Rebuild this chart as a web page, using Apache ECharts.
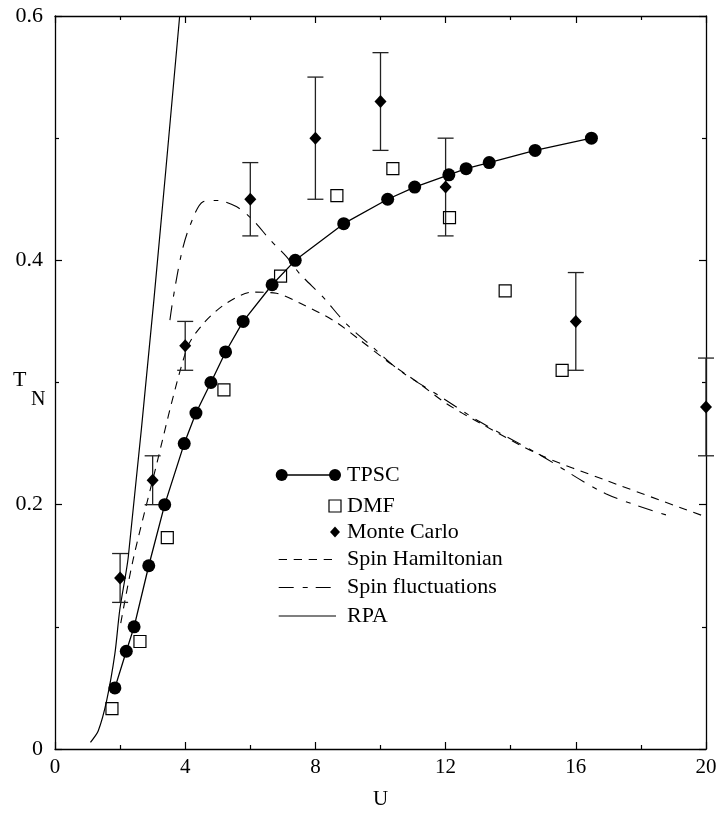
<!DOCTYPE html>
<html>
<head>
<meta charset="utf-8">
<script src="https://cdn.jsdelivr.net/npm/echarts@6/dist/echarts.min.js"></script>
<style>
  html, body { margin: 0; padding: 0; background: #fff; }
  #chart { width: 720px; height: 814px; }
</style>
</head>
<body>
<div id="chart"></div>
<script>
// Néel temperature T_N versus interaction U for several approaches

// TPSC (filled circles joined by a line)
const tpscU = [1.84, 2.19, 2.43, 2.88, 3.37, 3.97, 4.33, 4.79, 5.24, 5.78, 6.67, 7.38, 8.87, 10.22, 11.05, 12.10, 12.63, 13.34, 14.75, 16.48];
const tpscT = [0.050, 0.080, 0.100, 0.150, 0.200, 0.250, 0.275, 0.300, 0.325, 0.350, 0.380, 0.400, 0.430, 0.450, 0.460, 0.470, 0.475, 0.480, 0.490, 0.500];

// DMF (open squares)
const dmfU = [1.75, 2.61, 3.45, 5.19, 6.93, 8.66, 10.38, 12.12, 13.83, 15.58];
const dmfT = [0.033, 0.088, 0.173, 0.294, 0.387, 0.453, 0.475, 0.435, 0.375, 0.310];

// Monte Carlo (diamonds with error bars)
const mcU = [2, 3, 4, 6, 8, 10, 12, 16, 20];
const mcT = [0.140, 0.220, 0.330, 0.450, 0.500, 0.530, 0.460, 0.350, 0.280];
const mcLow = [0.120, 0.200, 0.310, 0.420, 0.450, 0.490, 0.420, 0.310, 0.240];
const mcHigh = [0.160, 0.240, 0.350, 0.480, 0.550, 0.570, 0.500, 0.390, 0.320];

// Spin Hamiltonian (dashed curve)
const shU = [2.02, 2.40, 3.00, 4.04, 4.55, 5.27, 6.08, 6.80, 7.52, 8.54, 9.36, 10.28, 11.20, 12.01, 13.04, 14.88, 16.92, 20.00];
const shT = [0.103, 0.155, 0.220, 0.327, 0.348, 0.365, 0.374, 0.373, 0.365, 0.351, 0.335, 0.316, 0.299, 0.283, 0.267, 0.241, 0.220, 0.190];

// Spin fluctuations (dash-dot curve)
const sfU = [3.53, 3.63, 3.89, 4.14, 4.55, 4.96, 5.57, 6.08, 6.60, 7.11, 7.52, 8.23, 8.95, 9.76, 10.58, 11.81, 13.04, 14.88, 16.92, 18.97];
const sfT = [0.351, 0.369, 0.406, 0.428, 0.448, 0.449, 0.444, 0.433, 0.417, 0.403, 0.389, 0.370, 0.348, 0.329, 0.310, 0.289, 0.268, 0.241, 0.209, 0.190];

// RPA (solid curve)
const rpaU = [1.09, 1.33, 1.59, 1.84, 1.99, 2.25, 3.04, 3.83];
const rpaT = [0.0055, 0.015, 0.040, 0.078, 0.114, 0.157, 0.368, 0.600];

// Axis ticks
const xTicks = { min: 0, max: 20, step: 4 };
const yTicks = { min: 0, max: 0.6, step: 0.2 };

const FONT = 'Liberation Serif';
const INK = '#000';

const zip = (a, b) => a.map((v, i) => [v, b[i]]);

const chart = echarts.init(document.getElementById('chart'), null, { renderer: 'canvas' });

const tickLine = { color: INK, width: 1.2 };
function axisBase(extra) {
  return Object.assign({
    type: 'value',
    axisLine: { show: true, onZero: false, lineStyle: { color: INK, width: 1.3 } },
    axisTick: { show: true, inside: true, length: 7, lineStyle: tickLine },
    minorTick: { show: true, splitNumber: 2, length: 4, lineStyle: tickLine },
    splitLine: { show: false },
    minorSplitLine: { show: false }
  }, extra);
}

const xLabelStyle = { fontFamily: FONT, fontSize: 21, color: INK };
const yLabelStyle = { fontFamily: FONT, fontSize: 22, color: INK };

const legendX0 = 281.7, legendX1 = 335, legendTextX = 347;
const legendRows = [475, 506, 532, 559.5, 587.5, 616];
const legendNames = ['TPSC', 'DMF', 'Monte Carlo', 'Spin Hamiltonian', 'Spin fluctuations', 'RPA'];
const shDash = [8.3, 6.7];
const sfDash = [15, 9, 5, 8];

const graphics = [];
legendNames.forEach((name, i) => {
  graphics.push({ type: 'text', left: legendTextX, top: legendRows[i] - 11,
    style: { text: name, font: '22px "' + FONT + '"', fill: INK } });
});
// TPSC key
graphics.push({ type: 'line', shape: { x1: legendX0, y1: legendRows[0], x2: legendX1, y2: legendRows[0] }, style: { stroke: INK, lineWidth: 1.3 } });
graphics.push({ type: 'circle', shape: { cx: legendX0, cy: legendRows[0], r: 6 }, style: { fill: INK } });
graphics.push({ type: 'circle', shape: { cx: legendX1, cy: legendRows[0], r: 6 }, style: { fill: INK } });
// DMF key
graphics.push({ type: 'rect', shape: { x: legendX1 - 6, y: legendRows[1] - 6, width: 12, height: 12 }, style: { fill: 'none', stroke: INK, lineWidth: 1.2 } });
// Monte Carlo key
graphics.push({ type: 'polygon', shape: { points: [[legendX1, legendRows[2] - 5.5], [legendX1 + 5, legendRows[2]], [legendX1, legendRows[2] + 5.5], [legendX1 - 5, legendRows[2]]] }, style: { fill: INK } });
// line keys
graphics.push({ type: 'line', shape: { x1: legendX0 - 3, y1: legendRows[3], x2: legendX1 + 1, y2: legendRows[3] }, style: { stroke: INK, lineWidth: 1.1, lineDash: shDash } });
graphics.push({ type: 'line', shape: { x1: legendX0 - 3, y1: legendRows[4], x2: legendX1 + 1, y2: legendRows[4] }, style: { stroke: INK, lineWidth: 1.1, lineDash: sfDash } });
graphics.push({ type: 'line', shape: { x1: legendX0 - 3, y1: legendRows[5], x2: legendX1 + 1, y2: legendRows[5] }, style: { stroke: INK, lineWidth: 1.1 } });
// y-axis title T_N
graphics.push({ type: 'text', left: 13, top: 369, style: { text: 'T', font: '22px "' + FONT + '"', fill: INK } });
graphics.push({ type: 'text', left: 31, top: 390, style: { text: 'N', font: '20px "' + FONT + '"', fill: INK } });

const option = {
  backgroundColor: '#fff',
  animation: false,
  grid: { left: 55, right: 14, top: 16, bottom: 65, containLabel: false, outerBoundsMode: 'none' },
  xAxis: [
    axisBase({
      min: xTicks.min, max: xTicks.max, interval: xTicks.step, position: 'bottom',
      axisLabel: Object.assign({ margin: 8, showMinLabel: true, showMaxLabel: true }, xLabelStyle),
      name: 'U', nameLocation: 'middle', nameGap: 40,
      nameTextStyle: { fontFamily: FONT, fontSize: 21, color: INK }
    }),
    axisBase({
      min: xTicks.min, max: xTicks.max, interval: xTicks.step, position: 'top',
      axisLabel: { show: false }
    })
  ],
  yAxis: [
    axisBase({
      min: yTicks.min, max: yTicks.max, interval: yTicks.step, position: 'left',
      axisLabel: Object.assign({ margin: 12, showMinLabel: true, showMaxLabel: true }, yLabelStyle)
    }),
    axisBase({
      min: yTicks.min, max: yTicks.max, interval: yTicks.step, position: 'right',
      axisLabel: { show: false }
    })
  ],
  graphic: graphics,
  series: [
    {
      name: 'RPA', type: 'line', data: zip(rpaU, rpaT), showSymbol: false, smooth: 0.25,
      lineStyle: { color: INK, width: 1.2 }, z: 2, clip: true
    },
    {
      name: 'Spin Hamiltonian', type: 'line', data: zip(shU, shT), showSymbol: false, smooth: 0.3,
      lineStyle: { color: INK, width: 1.1, type: shDash }, z: 2
    },
    {
      name: 'Spin fluctuations', type: 'line', data: zip(sfU, sfT), showSymbol: false, smooth: 0.3,
      lineStyle: { color: INK, width: 1.1, type: sfDash }, z: 2
    },
    {
      name: 'TPSC', type: 'line', data: zip(tpscU, tpscT), symbol: 'circle', symbolSize: 13,
      itemStyle: { color: INK, opacity: 1 }, lineStyle: { color: INK, width: 1.3 }, z: 4
    },
    {
      name: 'DMF', type: 'scatter', data: zip(dmfU, dmfT), symbol: 'rect', symbolSize: 12,
      itemStyle: { color: 'rgba(0,0,0,0)', borderColor: INK, borderWidth: 1.2, opacity: 1 }, z: 3
    },
    {
      name: 'Monte Carlo error', type: 'custom', clip: false, z: 3,
      data: mcU.map((u, i) => [u, mcLow[i], mcHigh[i]]),
      renderItem: function (params, api) {
        const u = api.value(0);
        const lo = api.coord([u, api.value(1)]);
        const hi = api.coord([u, api.value(2)]);
        const w = 8;
        const st = { stroke: '#222', lineWidth: 1.3 };
        return {
          type: 'group',
          children: [
            { type: 'line', shape: { x1: hi[0], y1: hi[1], x2: lo[0], y2: lo[1] }, style: st },
            { type: 'line', shape: { x1: hi[0] - w, y1: hi[1], x2: hi[0] + w, y2: hi[1] }, style: st },
            { type: 'line', shape: { x1: lo[0] - w, y1: lo[1], x2: lo[0] + w, y2: lo[1] }, style: st }
          ]
        };
      }
    },
    {
      name: 'Monte Carlo', type: 'scatter', data: zip(mcU, mcT), symbol: 'diamond', symbolSize: [12, 13],
      itemStyle: { color: INK, opacity: 1 }, z: 5, clip: false
    }
  ]
};

chart.setOption(option);
</script>
</body>
</html>
